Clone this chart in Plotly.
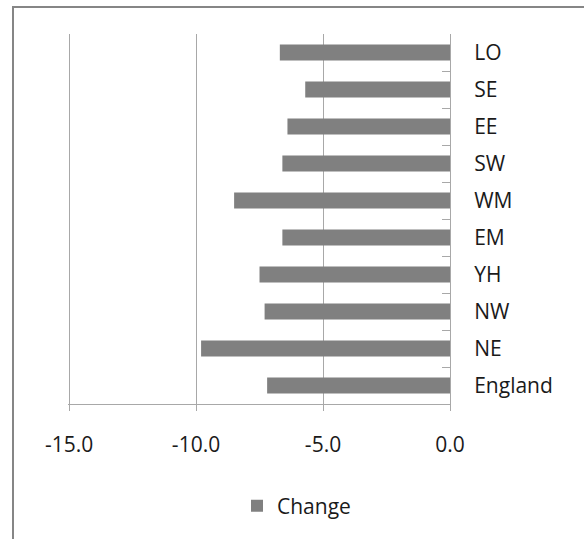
import plotly.graph_objects as go

# Regions, top to bottom, and their change values
regions = ["LO", "SE", "EE", "SW", "WM", "EM", "YH", "NW", "NE", "England"]
change = [-6.7, -5.7, -6.4, -6.6, -8.5, -6.6, -7.5, -7.3, -9.8, -7.2]

x_ticks = [-15, -10, -5, 0]
x_tick_labels = ["-15.0", "-10.0", "-5.0", "0.0"]

W, H = 584, 539
L, R, T, B = 68, 134, 34, 135
PW, PH = W - L - R, H - T - B

FONT = dict(family="Open Sans, sans-serif", size=21, color="#1a1a1a")
GRID = "#a8a8a8"


def px_x(p):
    return (p - L) / PW


def px_y(p):
    return 1 - (p - T) / PH


fig = go.Figure()
fig.add_trace(go.Bar(
    y=regions,
    x=change,
    orientation="h",
    name="Change",
    width=0.43,
    marker=dict(color="#808080", line=dict(width=0)),
))

fig.update_layout(
    width=W,
    height=H,
    margin=dict(l=L, r=R, t=T, b=B),
    paper_bgcolor="white",
    plot_bgcolor="white",
    font=FONT,
    bargap=0.57,
    showlegend=True,
    legend=dict(
        orientation="h",
        x=px_x(237),
        xanchor="left",
        y=px_y(506),
        yanchor="middle",
        font=FONT,
        bgcolor="rgba(0,0,0,0)",
    ),
    xaxis=dict(
        # small pad on the left so the -15 gridline is drawn
        range=[-15.04, 0],
        tickvals=x_ticks,
        ticktext=x_tick_labels,
        showgrid=True,
        gridcolor=GRID,
        gridwidth=1,
        zeroline=False,
        showline=True,
        linecolor=GRID,
        linewidth=1,
        ticks="outside",
        ticklen=6,
        tickcolor=GRID,
        ticklabelstandoff=16,
        fixedrange=True,
    ),
    yaxis=dict(
        categoryorder="array",
        categoryarray=regions[::-1],
        side="right",
        showgrid=False,
        zeroline=False,
        showline=True,
        linecolor=GRID,
        linewidth=1,
        ticks="inside",
        ticklen=8,
        tickcolor=GRID,
        tickson="boundaries",
        ticklabelstandoff=19,
        fixedrange=True,
    ),
    shapes=[
        # chart-area frame (open on the right and bottom)
        dict(
            type="rect",
            xref="paper", yref="paper",
            x0=px_x(13), x1=px_x(620),
            y0=px_y(580), y1=px_y(7),
            line=dict(color="#868686", width=2),
            fillcolor="rgba(0,0,0,0)",
            layer="below",
        )
    ],
)

fig.write_html("out.html")
